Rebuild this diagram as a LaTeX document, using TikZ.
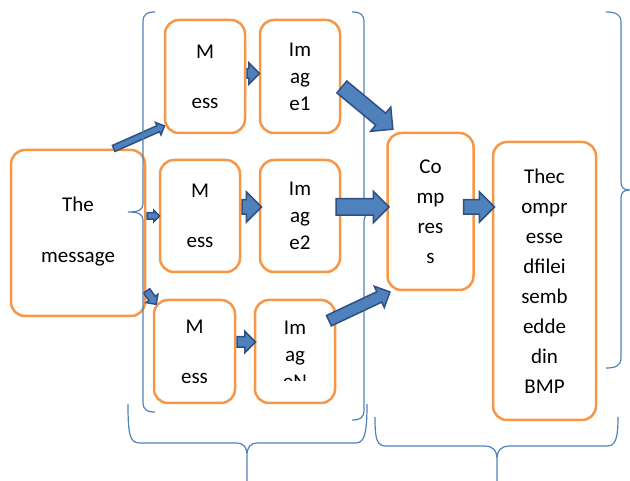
\documentclass[tikz,border=0pt]{standalone}
\usepackage{fontspec}
\setmainfont{Carlito}
\usetikzlibrary{calc,shapes.arrows}

\definecolor{boxorange}{HTML}{F79646}
\definecolor{braceblue}{HTML}{4F81BD}
\definecolor{arrowfill}{HTML}{4F81BD}
\definecolor{arrowline}{HTML}{2F5082}

\tikzset{
  stage/.style={draw=boxorange, line width=2.5pt, rounded corners=14pt,
    align=center, inner sep=0pt, font=\fontsize{21}{27}\selectfont},
  tall/.style={font=\fontsize{21}{30}\selectfont},
  brace/.style={draw=braceblue, line width=1.2pt},
  flow/.style={single arrow, draw=arrowline, fill=arrowfill, line width=1.5pt,
    inner sep=0pt, single arrow tip angle=90, sloped, anchor=tail},
}

% block arrow: half shaft, head extend, from, to
\newcommand\flowarrow[4]{%
  \path let \p1=(#3), \p2=(#4), \n1={veclen(\x2-\x1,\y2-\y1)} in
    (\p1) -- node[flow, pos=0, inner ysep=#1, single arrow head extend=#2,
      minimum height=\n1] {} (\p2);
}

\begin{document}
\begin{tikzpicture}[x=1pt, y=-1pt]
  \useasboundingbox (0,0) rectangle (630,481);

  % boxes
  \node[stage, minimum width=134pt, minimum height=166pt] (msg) at (78,233) {The\\[24pt]message\\[-21pt]};
  \node[stage, minimum width=80pt, minimum height=113pt] (m1) at (205,76.5) {M\\[23pt]ess};
  \node[stage, minimum width=80pt, minimum height=113pt] (i1) at (300,76.5) {Im\\ag\\e1};
  \node[stage, minimum width=80pt, minimum height=112pt] (m2) at (200,216) {M\\[23pt]ess};
  \node[stage, minimum width=80pt, minimum height=112pt] (i2) at (300,216) {Im\\ag\\e2};
  \node[stage, minimum width=81pt, minimum height=103pt] (m3) at (194.5,351.5) {M\\[23pt]ess};
  \node[stage, minimum width=80pt, minimum height=103pt] (i3) at (295,351.5) {};
  \node[stage, tall, minimum width=86pt, minimum height=157pt] (comp) at (430.5,211.5) {Co\\mp\\res\\s};
  \node[stage, tall, minimum width=103pt, minimum height=278pt] (fin) at (544.5,281)
    {Thec\\ompr\\esse\\dfilei\\semb\\edde\\din\\BMP};

  % text of the last image box is cut off
  \begin{scope}
    \clip (i3.north west) rectangle ([yshift=-82pt]i3.north east);
    \node[stage, draw=none, anchor=north] (i3txt) at ([yshift=-21.5pt]i3.north) {Im\\ag\\eN};
  \end{scope}

  % brace under the arrows
  \draw[brace] (352,12) .. controls (360,12) and (364,14) .. (364,22) -- (364,202)
    .. controls (364,208) and (369,210) .. (380,210)
    .. controls (369,210) and (364,214) .. (364,222) -- (364,410)
    .. controls (364,418) and (360,420) .. (352,420);

  % arrows
  \flowarrow{2.5pt}{3.5pt}{[xshift=35pt]msg.north}{[yshift=8pt]m1.south west}
  \flowarrow{2.5pt}{2.5pt}{msg.east |- m2.west}{m2.west}
  \flowarrow{3pt}{3.5pt}{[yshift=27pt]msg.south east}{[shift={(3pt,-5pt)}]m3.north west}
  \flowarrow{4pt}{6pt}{[yshift=3pt]m1.east}{[yshift=3pt]i1.west}
  \flowarrow{6.5pt}{8pt}{[yshift=9pt]m2.east}{[shift={(2pt,9pt)}]i2.west}
  \flowarrow{4.5pt}{5.5pt}{[yshift=9.5pt]m3.east}{[shift={(1pt,9.5pt)}]i3.west}
  \flowarrow{7pt}{8pt}{[yshift=-10pt]i1.east}{[shift={(6pt,3pt)}]comp.north west}
  \flowarrow{7.5pt}{7.5pt}{[shift={(-6pt,9pt)}]i2.east}{[shift={(2pt,4.5pt)}]comp.west}
  \flowarrow{5pt}{6pt}{[shift={(-8pt,30.5pt)}]i3.east}{[shift={(3pt,-1pt)}]comp.south west}
  \flowarrow{6.5pt}{8pt}{[shift={(-12pt,4.5pt)}]comp.east}{[shift={(2pt,74pt)}]fin.west}

  % braces
  \draw[brace] (155,12) .. controls (147,12) and (143,14) .. (143,22) -- (143,204)
    .. controls (143,210) and (138,212) .. (128,212)
    .. controls (138,212) and (143,214) .. (143,220) -- (143,402)
    .. controls (143,410) and (147,412) .. (155,412);
  \draw[brace] (606,12) .. controls (615,12) and (621,14) .. (621,22) -- (621,182)
    .. controls (621,188) and (624,190) .. (630,190)
    .. controls (624,190) and (621,192) .. (621,198) -- (621,358)
    .. controls (621,366) and (615,368) .. (606,368);
  \draw[brace] (128,404) .. controls (128,436) and (130,443) .. (140,443) -- (236,443)
    .. controls (244,443) and (247,447) .. (247,456) -- (247,481)
    (247,456) .. controls (247,447) and (250,443) .. (258,443) -- (355,443)
    .. controls (364,443) and (367,436) .. (367,404);
  \draw[brace] (375,417) .. controls (375,440) and (377,446) .. (386,446) -- (484,446)
    .. controls (493,446) and (497,450) .. (497,460) -- (497,481)
    (497,460) .. controls (497,450) and (501,446) .. (510,446) -- (607,446)
    .. controls (615,446) and (618,440) .. (618,417);
\end{tikzpicture}
\end{document}
